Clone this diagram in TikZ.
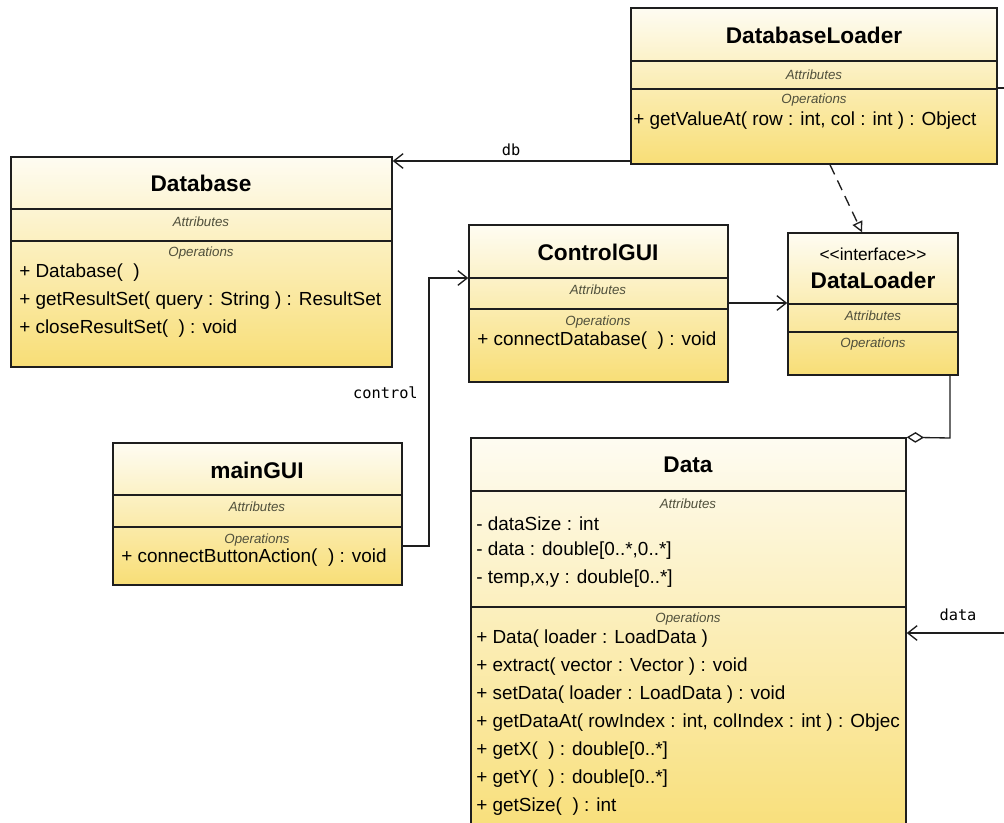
\documentclass[tikz,border=0pt]{standalone}
\usepackage{fontspec}
\setmainfont{Liberation Sans}
\setmonofont{DejaVu Sans Mono}
\usetikzlibrary{arrows.meta, calc, fit, positioning}
\definecolor{boxtop}{RGB}{254,252,242}
\definecolor{boxbottom}{RGB}{248,222,118}
\definecolor{boxline}{RGB}{30,30,30}
\definecolor{compgray}{RGB}{80,80,60}

\begin{document}
\begin{tikzpicture}[x=0.75pt, y=-0.75pt,
		classbox/.style={draw=boxline, line width=1.1pt, top color=boxtop, bottom color=boxbottom, inner sep=0pt},
		sepline/.style={draw=boxline, line width=1.1pt},
		classname/.style={inner sep=0pt, font=\fontsize{17}{20}\selectfont\bfseries},
		comptitle/.style={inner sep=0pt, text=compgray, font=\fontsize{10}{12}\selectfont\itshape},
		member/.style={anchor=west, inner sep=0pt, font=\fontsize{14.2}{17}\selectfont},
		lbl/.style={inner sep=0pt, font=\fontsize{11.5}{13}\selectfont\ttfamily},
		assoc/.style={draw=boxline, line width=1pt, -{Straight Barb[length=7pt, width=11pt]}},
		realize/.style={draw=boxline, line width=1pt, dash pattern=on 8pt off 5pt, -{Triangle[open, length=8pt, width=8pt]}},
		aggr/.style={draw=boxline, line width=1pt, {Diamond[open, length=13pt, width=8pt]}-}]
	
	\fill[white] (0,0) rectangle (1004,822);
	\useasboundingbox (0,0) rectangle (1004,822);
	
	% DatabaseLoader
	\node[classbox, fit={(631,8) (997,164)}] (dbloader) {};
	\draw[sepline] (631,61) -- (997,61);
	\draw[sepline] (631,89) -- (997,89);
	\node[classname] at (814,35) {DatabaseLoader};
	\node[comptitle] at (814,75) {Attributes};
	\node[comptitle] at (814,100) {Operations};
	\node[member] at (633,121) {+ getValueAt( row : int, col : int ) : Object};
	
	% Database
	\node[classbox, fit={(11,157) (392,367)}] (database) {};
	\draw[sepline] (11,209) -- (392,209);
	\draw[sepline] (11,241) -- (392,241);
	\node[classname] at (201,183) {Database};
	\node[comptitle] at (201,222) {Attributes};
	\node[comptitle] at (201,253) {Operations};
	\node[member] at (19,273) {+ Database(~~)};
	\node[member] at (19,301) {+ getResultSet( query : String ) : ResultSet};
	\node[member] at (19,329) {+ closeResultSet(~~) : void};
	
	% ControlGUI
	\node[classbox, fit={(469,225) (728,382)}] (controlgui) {};
	\draw[sepline] (469,278) -- (728,278);
	\draw[sepline] (469,309) -- (728,309);
	\node[classname] at (598,252) {ControlGUI};
	\node[comptitle] at (598,290) {Attributes};
	\node[comptitle] at (598,322) {Operations};
	\node[member] at (477,341) {+ connectDatabase(~~) : void};
	
	% DataLoader
	\node[classbox, fit={(788,233) (958,375)}] (dataloader) {};
	\draw[sepline] (788,304) -- (958,304);
	\draw[sepline] (788,332) -- (958,332);
	\node[member, anchor=center, font=\fontsize{13}{15}\selectfont] at (873,254) {<{}<interface>{}>};
	\node[classname] at (873,280) {DataLoader};
	\node[comptitle] at (873,316) {Attributes};
	\node[comptitle] at (873,344) {Operations};
	
	% mainGUI
	\node[classbox, fit={(113,443) (402,585)}] (maingui) {};
	\draw[sepline] (113,495) -- (402,495);
	\draw[sepline] (113,527) -- (402,527);
	\node[classname] at (257,470) {mainGUI};
	\node[comptitle] at (257,507) {Attributes};
	\node[comptitle] at (257,540) {Operations};
	\node[member] at (121,558) {+ connectButtonAction(~~) : void};
	
	% Data
	\node[classbox, fit={(471,438) (906,845)}] (data) {};
	\draw[sepline] (471,491) -- (906,491);
	\draw[sepline] (471,607) -- (906,607);
	\node[classname] at (688,465) {Data};
	\node[comptitle] at (688,504) {Attributes};
	\node[member] at (476,524) {- dataSize : int};
	\node[member] at (476,551) {- data : double[0..*,0..*]};
	\node[member] at (476,579) {- temp,x,y : double[0..*]};
	\node[comptitle] at (688,619) {Operations};
	\node[member] at (476,639) {+ Data( loader : LoadData )};
	\node[member] at (476,667) {+ extract( vector : Vector ) : void};
	\node[member] at (476,695) {+ setData( loader : LoadData ) : void};
	\node[member] at (476,723) {+ getDataAt( rowIndex : int, colIndex : int ) : Objec};
	\node[member] at (476,751) {+ getX(~~) : double[0..*]};
	\node[member] at (476,779) {+ getY(~~) : double[0..*]};
	\node[member] at (476,807) {+ getSize(~~) : int};
	
	% Connectors
	\draw[assoc] (dbloader.west |- 0,161) -- (database.east |- 0,161);
	\node[lbl] at (511,150) {db};
	\draw[realize] (dbloader.south -| 830,0) -- (dataloader.north -| 862,0);
	\draw[assoc] (controlgui.east |- 0,303) -- (dataloader.west |- 0,303);
	\draw[assoc] (maingui.east |- 0,546) -- (429,546) |- (controlgui.west |- 0,278);
	\node[lbl, anchor=east] at (418,393) {control};
	\draw[aggr] (data.north east) -- (950,438) -- (dataloader.south -| 950,0);
	\draw[assoc] (dbloader.east |- 0,88) -- (1016,88) |- (data.east |- 0,633);
	\node[lbl] at (958,615) {data};
\end{tikzpicture}
\end{document}
